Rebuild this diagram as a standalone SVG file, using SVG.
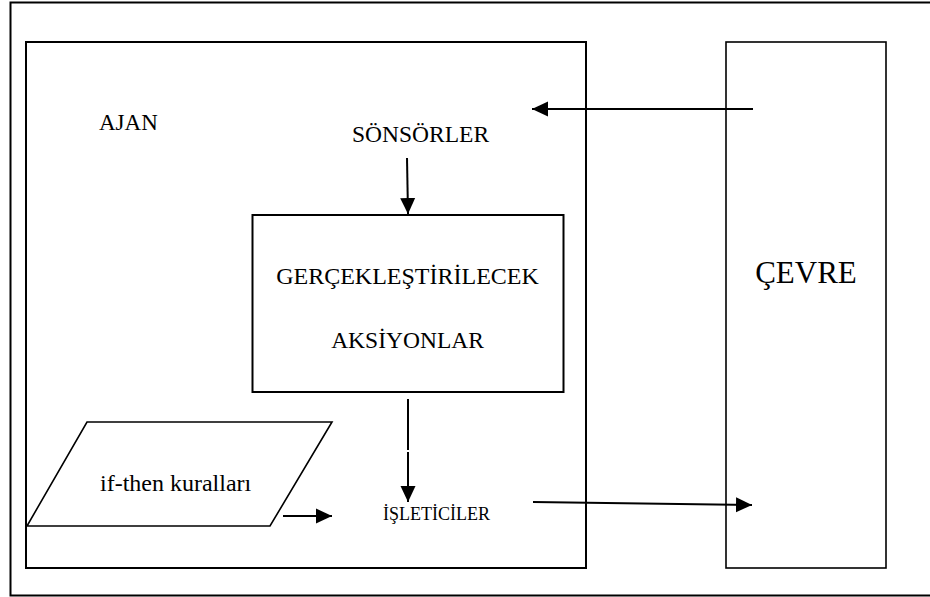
<svg xmlns="http://www.w3.org/2000/svg" width="930" height="597" viewBox="0 0 930 597">
  <style>
    .box { fill: #ffffff; stroke: #000000; stroke-width: 2; }
    .thin { fill: #ffffff; stroke: #000000; stroke-width: 1.6; }
    .lbl { font-family: "Liberation Serif", "Times New Roman", serif; fill: #000000; }
    .wire { fill: none; stroke: #000000; stroke-width: 2; }
  </style>
  <defs>
    <marker id="head" markerUnits="userSpaceOnUse" markerWidth="16" markerHeight="16" viewBox="0 0 16 16" refX="16" refY="8" orient="auto">
      <path d="M0,0.5 L16,8 L0,15.5 Z" fill="#000000"/>
    </marker>
  </defs>

  <rect width="930" height="597" fill="#ffffff"/>

  <!-- outer frame (open on the right) -->
  <path class="wire" d="M932,2.5 L10.5,2.5 L10.5,595.5 L932,595.5"/>

  <g id="ajan">
    <rect class="box" x="26" y="42" width="560" height="526"/>
    <text class="lbl" x="99" y="130" font-size="23">AJAN</text>
  </g>

  <g id="cevre">
    <rect class="thin" x="726" y="42" width="160" height="526"/>
    <text class="lbl" x="806" y="283" font-size="31" text-anchor="middle">ÇEVRE</text>
  </g>

  <g id="sensors">
    <text class="lbl" x="352" y="141.5" font-size="23.5">SÖNSÖRLER</text>
  </g>

  <g id="actions">
    <rect class="box" x="252.5" y="215" width="311" height="177"/>
    <text class="lbl" x="407.5" y="284" font-size="24" text-anchor="middle">GERÇEKLEŞTİRİLECEK</text>
    <text class="lbl" x="407.5" y="348" font-size="23.5" text-anchor="middle">AKSİYONLAR</text>
  </g>

  <g id="rules">
    <polygon class="thin" points="87,422 332,422 270,526 27,526"/>
    <text class="lbl" x="100" y="491" font-size="24">if-then kuralları</text>
  </g>

  <g id="actuators">
    <text class="lbl" x="383" y="520" font-size="18">İŞLETİCİLER</text>
  </g>

  <g id="connectors">
    <line class="wire" x1="753" y1="109" x2="532" y2="109" marker-end="url(#head)"/>
    <line class="wire" x1="407" y1="158" x2="408" y2="214" marker-end="url(#head)"/>
    <line class="wire" x1="408" y1="399" x2="408" y2="450"/>
    <line class="wire" x1="408" y1="452" x2="408" y2="502" marker-end="url(#head)"/>
    <line class="wire" x1="283" y1="516" x2="332" y2="516" marker-end="url(#head)"/>
    <line class="wire" x1="533" y1="502" x2="752" y2="505" marker-end="url(#head)"/>
  </g>
</svg>
